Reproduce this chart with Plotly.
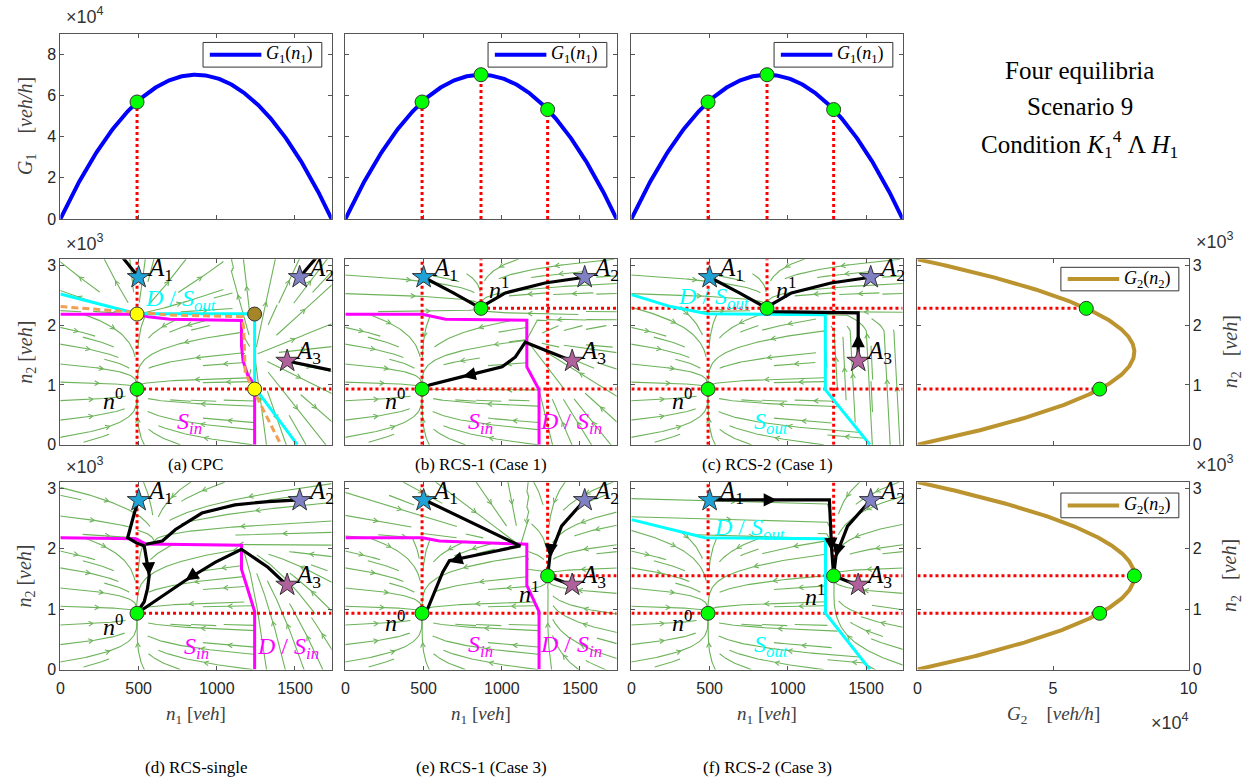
import numpy as np
import plotly.graph_objects as go

W, H = 1256, 784

# ---------------------------------------------------------------- model data
N1_MAX = 1734.0          # jam accumulation, region 1 [veh]
N2_MAX = 3100.0          # jam accumulation, region 2 [veh]
G1_MAX = 70000.0         # peak of MFD G1 [veh/h]
G2_MAX = 80000.0         # peak of MFD G2 [veh/h]

N0 = (490, 930)          # equilibrium n^0
N1_CASE1 = (867, 2280)   # equilibrium n^1, case 1
N1_CASE3 = (1293, 1550)  # equilibrium n^1, case 3
CPC_YELLOW = [(490, 2185), (1242, 930)]
CPC_BROWN = (1242, 2185)

A_NAMES = ["A1", "A2", "A3"]
A_X = [500, 1530, 1450]
A_Y = [2800, 2800, 1400]
A_COLORS = ["#1fa2d6", "#8080c4", "#b0609a"]

G1_DOTS = [[490], [490, 867, 1293], [490, 867, 1293]]
G2_DOTS_ROW2 = [930, 2280]
G2_DOTS_ROW3 = [930, 1550]

# region boundaries (S_in magenta / S_out cyan / D orange)
MAG_A = [(0, 2182), (490, 2182), (560, 2140), (700, 2100), (1158, 2078), (1158, 1650),
         (1168, 1400), (1200, 1150), (1242, 1000), (1242, 0)]
CYAN_A = [(0, 2520), (490, 2190), (1242, 2190), (1242, 960), (1515, 0)]
ORANGE_A = [(0, 2310), (490, 2205), (700, 2170), (1160, 2140), (1172, 1950), (1182, 1200),
            (1265, 750), (1410, 0)]
MAG_B = [(0, 2182), (492, 2180), (640, 2100), (1160, 2083), (1160, 1300), (1238, 920), (1238, 0)]
CYAN_C = [(0, 2510), (250, 2310), (485, 2190), (1240, 2172), (1240, 920), (1525, 0)]
MAG_D = [(0, 2180), (483, 2165), (546, 2075), (1158, 2056), (1158, 1660), (1211, 1230),
         (1242, 960), (1242, 0)]
MAG_E = [(0, 2181), (492, 2181), (601, 2126), (1160, 2072), (1160, 1392), (1238, 958), (1238, 0)]
CYAN_F = [(0, 2480), (470, 2181), (1241, 2165), (1241, 930), (1525, 0)]

# trajectories from the initial states
TRAJ_A = [[(500, 2800), (399, 3128)],
          [(1530, 2800), (1633, 3117)],
          [(1450, 1400), (1728, 1248)]]
TRAJ_B = [[(500, 2800), (690, 2540), (867, 2280)],
          [(1530, 2800), (1276, 2704), (1023, 2539), (897, 2346), (867, 2280)],
          [(1450, 1400), (1150, 1715), (1087, 1467), (1002, 1302), (749, 1138), (538, 1000), (490, 930)]]
TRAJ_C = [[(500, 2800), (690, 2540), (867, 2280)],
          [(1530, 2800), (1276, 2704), (1023, 2539), (897, 2346), (867, 2280)],
          [(1450, 1400), (1450, 2205), (900, 2225), (867, 2280)]]
TRAJ_D = [[(500, 2806), (473, 2589), (430, 2181), (483, 2099), (536, 2045), (551, 1827), (568, 1555),
           (557, 1338), (536, 1121), (494, 958), (490, 930)],
          [(1530, 2806), (1327, 2779), (1116, 2725), (905, 2589), (736, 2317), (652, 2126), (546, 2072)],
          [(1450, 1392), (1327, 1692), (1158, 1990), (989, 1773), (799, 1473), (631, 1175),
           (525, 984), (490, 930)]]
TRAJ_E = [[(506, 2806), (1118, 2045), (918, 1937), (665, 1800), (622, 1610), (580, 1338),
           (527, 1012), (490, 930)],
          [(1530, 2806), (1382, 2371), (1308, 1881), (1293, 1550)],
          [(1450, 1392), (1370, 1470), (1293, 1550)]]
TRAJ_F = [[(500, 2806), (1266, 2806), (1280, 2000), (1293, 1550)],
          [(1530, 2806), (1382, 2371), (1308, 1881), (1293, 1550)],
          [(1450, 1392), (1370, 1470), (1293, 1550)]]

CAPTIONS = ["(a) CPC", "(b) RCS-1 (Case 1)", "(c) RCS-2 (Case 1)",
            "(d) RCS-single", "(e) RCS-1 (Case 3)", "(f) RCS-2 (Case 3)"]

# ---------------------------------------------------------------- styling
SERIF = "Liberation Serif, DejaVu Serif, serif"
SANS = "Liberation Sans, Arial, sans-serif"
AXC = "#555555"
GREEN_STREAM = "#6db35a"
GOLD = "#bb942f"

COLS = [(57, 331), (345, 619), (634, 908), (923, 1197)]
ROWS = [(32, 220), (261, 449), (487, 677)]


def xdom(c):
    return [COLS[c][0] / W, COLS[c][1] / W]


def ydom(r):
    return [1 - ROWS[r][1] / H, 1 - ROWS[r][0] / H]


def G1(n):
    return 4 * G1_MAX * (n / N1_MAX) * (1 - n / N1_MAX)


def G2(n):
    return 4 * G2_MAX * (n / N2_MAX) * (1 - n / N2_MAX)


# axis bookkeeping
AX_ID = {}
k = 0
for r in range(3):
    for c in range(4):
        if r == 0 and c == 3:
            continue
        k += 1
        AX_ID[(r, c)] = k


def refs(r, c):
    k = AX_ID[(r, c)]
    return ("x" if k == 1 else f"x{k}"), ("y" if k == 1 else f"y{k}")


fig = go.Figure()


def add_line(r, c, xs, ys, color, width, dash="solid"):
    xr, yr = refs(r, c)
    fig.add_trace(go.Scatter(x=xs, y=ys, mode="lines", xaxis=xr, yaxis=yr,
                             line=dict(color=color, width=width, dash=dash),
                             hoverinfo="skip", showlegend=False))


def add_dots(r, c, xs, ys, color, size=14):
    xr, yr = refs(r, c)
    fig.add_trace(go.Scatter(x=xs, y=ys, mode="markers", xaxis=xr, yaxis=yr, cliponaxis=False,
                             marker=dict(color=color, size=size, line=dict(color="#333333", width=1)),
                             hoverinfo="skip", showlegend=False))


# ---------------------------------------------------------------- vector fields of the closed loop
PW, PH = 274, 188   # panel size in pixels; streamlines are traced on this grid


def inside(X, Y, poly):
    poly = np.asarray(poly, float)
    res = np.zeros(X.shape, bool)
    j = len(poly) - 1
    for i in range(len(poly)):
        xi, yi = poly[i]
        xj, yj = poly[j]
        with np.errstate(all="ignore"):
            cond = ((yi > Y) != (yj > Y)) & (X < (xj - xi) * (Y - yi) / (yj - yi + 1e-12) + xi)
        res ^= cond
        j = i
    return res


def basin(line):
    return [(-80, -80), (-80, line[0][1])] + list(line) + [(line[-1][0], -80)]


def upper_limit(line, X):
    xs = [p[0] for p in line if p[1] > 1900]
    ys = [p[1] for p in line if p[1] > 1900]
    xs = xs + [N1_MAX + 100]
    ys = ys + [ys[-1]]
    return np.interp(X, xs, ys)


def sink(X, Y, p, a=4.0, b=1.0):
    return -a * (X - p[0]) / N1_MAX, -b * (Y - p[1]) / N2_MAX


def source(X, Y, p, a=1.0, b=1.0):
    u, v = sink(X, Y, p, a, b)
    return -u, -v


def pick(conds, fields, default):
    u, v = default
    for cnd, (fu, fv) in zip(conds[::-1], fields[::-1]):
        u = np.where(cnd, fu, u)
        v = np.where(cnd, fv, v)
    return u, v


def field_a(X, Y):
    inner = inside(X, Y, basin(MAG_A))
    return pick([inner, X < 1100],
                [sink(X, Y, N0), source(X, Y, CPC_YELLOW[0], 1.0, 1.2)],
                source(X, Y, (1242, 1500)))


def field_b(X, Y):
    inner = inside(X, Y, basin(MAG_B))
    up = Y >= upper_limit(MAG_B, X)
    return pick([inner, up], [sink(X, Y, N0), sink(X, Y, N1_CASE1)],
                sink(X, Y, (1160, 1750), 1.0, 1.0))


def field_c(X, Y):
    inner = inside(X, Y, basin(CYAN_C))
    up = Y >= upper_limit(CYAN_C, X)
    ur = -0.9 * np.clip((Y - 1850) / 350, 0, 1) - 0.02
    vr = 0.6 * np.ones_like(Y)
    return pick([inner, up], [sink(X, Y, N0), sink(X, Y, N1_CASE1)], (ur, vr))


def field_d(X, Y):
    inner = inside(X, Y, basin(MAG_D))
    up = Y >= upper_limit(MAG_D, X)
    return pick([inner, up], [sink(X, Y, N0), sink(X, Y, (600, 2100), 2.5, 1.0)],
                sink(X, Y, (1158, 2000), 1.0, 1.5))


def field_e(X, Y):
    inner = inside(X, Y, basin(MAG_E))
    left = X < 1170
    return pick([inner, left], [sink(X, Y, N0), sink(X, Y, (1118, 2045), 1.0, 1.0)],
                sink(X, Y, N1_CASE3))


def field_f(X, Y):
    inner = inside(X, Y, basin(CYAN_F))
    left = X < 1250
    uh = np.ones_like(X)
    vh = -0.04 * np.ones_like(X)
    return pick([inner, left], [sink(X, Y, N0), (uh, vh)], sink(X, Y, N1_CASE3))


def to_px(x, y):
    return x / N1_MAX * PW, y / N2_MAX * PH


def trace_streamlines(field, nodes, seed_step=18, cell=11, max_len=300, h=1.5, node_r=12):
    """Integrate the field on the pixel grid of the panel; returns polylines and arrow chevrons."""
    gx = np.arange(PW + 1)
    gy = np.arange(PH + 1)
    GX, GY = np.meshgrid(gx, gy)
    du, dv = field(GX / PW * N1_MAX + 0.3, GY / PH * N2_MAX + 0.3)
    U = du * PW
    V = dv * PH
    S = np.hypot(U, V) + 1e-12
    U, V = U / S, V / S
    nodes_px = [to_px(*p) for p in nodes]
    ncx, ncy = PW // cell + 1, PH // cell + 1
    occ = np.zeros((ncx, ncy), bool)

    def direction(p):
        i = int(round(min(max(p[1], 0), PH)))
        j = int(round(min(max(p[0], 0), PW)))
        return U[i, j], V[i, j]

    def near_node(p):
        for (nx, ny) in nodes_px:
            if (p[0] - nx) ** 2 + (p[1] - ny) ** 2 < node_r ** 2:
                return True
        return False

    def walk(p0, sgn):
        pts = [p0]
        p = p0
        prev = None
        L = 0.0
        cells = set()
        while L < max_len:
            ux, uy = direction(p)
            ux, uy = sgn * ux, sgn * uy
            mid = (p[0] + 0.5 * h * ux, p[1] + 0.5 * h * uy)
            mx, my = direction(mid)
            mx, my = sgn * mx, sgn * my
            if prev is not None and mx * prev[0] + my * prev[1] < 0.2:
                break
            q = (p[0] + h * mx, p[1] + h * my)
            if not (0 <= q[0] <= PW and 0 <= q[1] <= PH):
                pts.append(q)
                break
            ci, cj = int(q[0] // cell), int(q[1] // cell)
            if occ[ci, cj] and (ci, cj) not in cells and not near_node(q):
                break
            cells.add((int(p[0] // cell), int(p[1] // cell)))
            pts.append(q)
            p = q
            prev = (mx, my)
            L += h
        return pts, cells, L

    lines, arrows = [], []
    seeds = [(sx + 0.5 * ((k2 % 2) * seed_step), sy)
             for k2, sy in enumerate(np.arange(seed_step / 2, PH, seed_step))
             for sx in np.arange(seed_step / 2, PW, seed_step)]
    for s in seeds:
        if s[0] > PW or occ[int(s[0] // cell), int(s[1] // cell)]:
            continue
        fwd, c1, l1 = walk(s, 1)
        bwd, c2, l2 = walk(s, -1)
        line = bwd[::-1] + fwd[1:]
        if l1 + l2 < 18:
            continue
        for (a, b) in c1 | c2:
            if 0 <= a < ncx and 0 <= b < ncy:
                occ[a, b] = True
        lines.append(line)
        if l1 + l2 < 35:
            continue
        # chevron along the streamline, pointing with the flow
        m = len(line) // 2
        p1, p0 = line[m], line[max(m - 3, 0)]
        ang = np.arctan2(p1[1] - p0[1], p1[0] - p0[0])
        for da in (np.pi - 0.5, np.pi + 0.5):
            arrows.append([p1, (p1[0] + 5 * np.cos(ang + da), p1[1] + 5 * np.sin(ang + da))])
    xs, ys = [], []
    for poly in lines + arrows:
        for (px, py) in poly:
            xs.append(px / PW * N1_MAX)
            ys.append(py / PH * N2_MAX)
        xs.append(None)
        ys.append(None)
    return xs, ys


# ---------------------------------------------------------------- row 1: G1 curves
n1_grid = np.linspace(0, N1_MAX, 300)
for c in range(3):
    add_line(0, c, n1_grid, G1(n1_grid), "#0000ff", 4)
    for xv in G1_DOTS[c]:
        add_line(0, c, [xv, xv], [0, G1(xv)], "red", 3, "dot")
    add_dots(0, c, G1_DOTS[c], [G1(v) for v in G1_DOTS[c]], "#00ff00")

# ---------------------------------------------------------------- phase portraits
PANELS = [
    (1, 0, field_a, TRAJ_A, [N0]),
    (1, 1, field_b, TRAJ_B, [N0, N1_CASE1, (1160, 1750)]),
    (1, 2, field_c, TRAJ_C, [N0, N1_CASE1]),
    (2, 0, field_d, TRAJ_D, [N0, (1158, 2000), (600, 2100)]),
    (2, 1, field_e, TRAJ_E, [N0, N1_CASE3, (1118, 2045)]),
    (2, 2, field_f, TRAJ_F, [N0, N1_CASE3]),
]
TOP = N2_MAX
RIGHT = N1_MAX
# dotted guides: (x0, y0, x1, y1)
GUIDES = {
    (1, 0): [(N0[0], 0, N0[0], TOP), (N0[0], N0[1], RIGHT, N0[1])],
    (1, 1): [(N0[0], 0, N0[0], TOP), (N1_CASE1[0], N1_CASE1[1], N1_CASE1[0], TOP),
             (N1_CASE3[0], 0, N1_CASE3[0], TOP), (0, N0[1], RIGHT, N0[1]),
             (N1_CASE1[0], N1_CASE1[1], RIGHT, N1_CASE1[1])],
    (1, 2): [(N0[0], 0, N0[0], TOP), (N1_CASE1[0], N1_CASE1[1], N1_CASE1[0], TOP),
             (N1_CASE3[0], 0, N1_CASE3[0], TOP), (0, N0[1], RIGHT, N0[1]),
             (0, N1_CASE1[1], RIGHT, N1_CASE1[1])],
    (2, 0): [(N0[0], 1230, N0[0], TOP), (N0[0], N0[1], RIGHT, N0[1])],
    (2, 1): [(N0[0], N0[1], N0[0], TOP), (N1_CASE3[0], N1_CASE3[1], N1_CASE3[0], TOP),
             (0, N0[1], RIGHT, N0[1]), (N1_CASE3[0], N1_CASE3[1], RIGHT, N1_CASE3[1])],
    (2, 2): [(N0[0], 1230, N0[0], TOP), (N1_CASE3[0], N1_CASE3[1], N1_CASE3[0], TOP),
             (0, N0[1], RIGHT, N0[1]), (0, N1_CASE3[1], RIGHT, N1_CASE3[1])],
}
BOUNDS = {
    (1, 0): [(ORANGE_A, "#f0a050", 3, "7px,4px"), (MAG_A, "#ff00ff", 3, "solid"), (CYAN_A, "#00ffff", 3, "solid")],
    (1, 1): [(MAG_B, "#ff00ff", 3, "solid")],
    (1, 2): [(CYAN_C, "#00ffff", 3, "solid")],
    (2, 0): [(MAG_D, "#ff00ff", 3, "solid")],
    (2, 1): [(MAG_E, "#ff00ff", 3, "solid")],
    (2, 2): [(CYAN_F, "#00ffff", 3, "solid")],
}

for (r, c, field, trajs, nodes) in PANELS:
    sx, sy = trace_streamlines(field, nodes)
    add_line(r, c, sx, sy, GREEN_STREAM, 1.1)
    for (x0, y0, x1, y1) in GUIDES[(r, c)]:
        add_line(r, c, [x0, x1], [y0, y1], "red", 3, "dot")
    order = BOUNDS[(r, c)]
    # cyan and magenta under the dashed orange line
    for line, col, wd, ds in sorted(order, key=lambda t: t[3] != "solid"):
        add_line(r, c, [p[0] for p in line], [p[1] for p in line], col, wd, ds)
    for tr in trajs:
        add_line(r, c, [p[0] for p in tr], [p[1] for p in tr], "black", 3.2)
    xr, yr = refs(r, c)
    for i in range(3):
        fig.add_trace(go.Scatter(x=[A_X[i]], y=[A_Y[i]], mode="markers", xaxis=xr, yaxis=yr,
                                 marker=dict(symbol="star", size=17, color=A_COLORS[i],
                                             line=dict(color="#333333", width=1)),
                                 hoverinfo="skip", showlegend=False))

# equilibria markers
add_dots(1, 0, [N0[0]], [N0[1]], "#00ff00")
add_dots(1, 0, [p[0] for p in CPC_YELLOW], [p[1] for p in CPC_YELLOW], "#ffff00")
add_dots(1, 0, [CPC_BROWN[0]], [CPC_BROWN[1]], "#a48628")
for c in (1, 2):
    add_dots(1, c, [N0[0], N1_CASE1[0]], [N0[1], N1_CASE1[1]], "#00ff00")
add_dots(2, 0, [N0[0]], [N0[1]], "#00ff00")
for c in (1, 2):
    add_dots(2, c, [N0[0], N1_CASE3[0]], [N0[1], N1_CASE3[1]], "#00ff00")

# ---------------------------------------------------------------- column 4: G2 curves
n2_grid = np.linspace(0, N2_MAX, 300)
for r, dots in ((1, G2_DOTS_ROW2), (2, G2_DOTS_ROW3)):
    add_line(r, 3, G2(n2_grid), n2_grid, GOLD, 4)
    for yv in dots:
        add_line(r, 3, [0, G2(yv)], [yv, yv], "red", 3, "dot")
    add_dots(r, 3, [G2(v) for v in dots], dots, "#00ff00")

# ---------------------------------------------------------------- axes
base = dict(showgrid=False, zeroline=False, showline=True, linecolor=AXC, linewidth=1,
            mirror="ticks", ticks="inside", ticklen=4, tickcolor=AXC,
            tickfont=dict(family=SANS, size=16, color="#262626"))
layout_axes = {}
for (r, c), k in AX_ID.items():
    xa = dict(base, domain=xdom(c), anchor=("y" if k == 1 else f"y{k}"), ticklabelstandoff=4)
    ya = dict(base, domain=ydom(r), anchor=("x" if k == 1 else f"x{k}"))
    if c < 3:
        xa.update(range=[0, N1_MAX], tickvals=[0, 500, 1000, 1500],
                  ticktext=["0", "500", "1000", "1500"], showticklabels=(r == 2))
    else:
        xa.update(range=[0, 100000], tickvals=[0, 50000, 100000],
                  ticktext=["0", "5", "10"], showticklabels=(r == 2))
    if r == 0:
        ya.update(range=[0, 90000], tickvals=[0, 20000, 40000, 60000, 80000],
                  ticktext=["0", "2", "4", "6", "8"], showticklabels=(c == 0))
    else:
        ya.update(range=[0, N2_MAX], tickvals=[0, 1000, 2000, 3000],
                  ticktext=["0", "1", "2", "3"], showticklabels=(c in (0, 3)))
        if c == 3:
            ya.update(side="right")
    layout_axes["xaxis" if k == 1 else f"xaxis{k}"] = xa
    layout_axes["yaxis" if k == 1 else f"yaxis{k}"] = ya

fig.update_layout(**layout_axes)

# ---------------------------------------------------------------- text
ann = []


def paper_text(x, y, text, size=15, family=SERIF, color="black", angle=0, xanchor="center"):
    ann.append(dict(x=x / W, y=1 - y / H, xref="paper", yref="paper", text=text, showarrow=False,
                    font=dict(family=family, size=size, color=color), textangle=angle,
                    xanchor=xanchor, yanchor="middle"))


def data_text(r, c, x, y, text, size=24, color="black", xshift=0, yshift=0, xanchor="center"):
    xr, yr = refs(r, c)
    ann.append(dict(x=x, y=y, xref=xr, yref=yr, text=text, showarrow=False,
                    font=dict(family=SERIF, size=size, color=color),
                    xshift=xshift, yshift=yshift, xanchor=xanchor, yanchor="middle"))


def data_arrow(r, c, p_from, p_to):
    xr, yr = refs(r, c)
    ann.append(dict(x=p_to[0], y=p_to[1], ax=p_from[0], ay=p_from[1], xref=xr, yref=yr,
                    axref=xr, ayref=yr, text="", showarrow=True, arrowhead=2, arrowsize=1.1,
                    arrowwidth=2.4, arrowcolor="black"))


# scale factors
paper_text(82, 14, "×10<sup>4</sup>", size=18, family=SANS, color="#333333")
for yy in (244, 470):
    paper_text(82, yy, "×10<sup>3</sup>", size=18, family=SANS, color="#333333")
    paper_text(1224, yy - 2, "×10<sup>3</sup>", size=18, family=SANS, color="#333333")
paper_text(1178, 730, "×10<sup>4</sup>", size=18, family=SANS, color="#333333")

# axis titles
paper_text(22, 126, "<i>G</i><sub>1</sub>    [<i>veh/h</i>]", size=20, color="#404040", angle=-90)
for yy in (355, 582):
    paper_text(22, yy, "<i>n</i><sub>2</sub> [<i>veh</i>]", size=20, color="#404040", angle=-90)
    paper_text(1240, yy, "<i>n</i><sub>2</sub>   [<i>veh</i>]", size=20, color="#404040", angle=-90)
for c in range(3):
    cx = (COLS[c][0] + COLS[c][1]) / 2
    paper_text(cx, 723, "<i>n</i><sub>1</sub> [<i>veh</i>]", size=19, color="#404040")
paper_text(1060, 723, "<i>G</i><sub>2</sub>    [<i>veh/h</i>]", size=19, color="#404040")

# captions
for i, cap in enumerate(CAPTIONS):
    c = i % 3
    cx = (COLS[c][0] + COLS[c][1]) / 2
    paper_text(cx, 469 if i < 3 else 776, cap, size=17)

# scenario description
paper_text(1087, 69, "Four equilibria", size=25)
paper_text(1087, 106, "Scenario 9", size=25)
paper_text(1087, 144, "Condition <i>K</i><sub>1</sub><sup>4</sup> Λ <i>H</i><sub>1</sub>", size=25)

# legends drawn as boxes with a line sample
shapes = []


def legend_box(r, c, x0, x1, y0, y1, color, label):
    xr, yr = refs(r, c)
    xd, yd = f"{xr} domain", f"{yr} domain"
    shapes.append(dict(type="rect", xref=xd, yref=yd, x0=x0, x1=x1, y0=y0, y1=y1,
                       line=dict(color="#333333", width=1), fillcolor="white", layer="above"))
    ym = (y0 + y1) / 2
    shapes.append(dict(type="line", xref=xd, yref=yd, x0=x0 + 0.025, x1=x0 + 0.215, y0=ym, y1=ym,
                       line=dict(color=color, width=4), layer="above"))
    ann.append(dict(x=x0 + 0.225, y=ym, xref=xd, yref=yd, text=label, showarrow=False,
                    xanchor="left", yanchor="middle", font=dict(family=SERIF, size=18, color="black")))


for c in range(3):
    legend_box(0, c, 0.526, 0.964, 0.819, 0.952, "#0000ff", "<i>G</i><sub>1</sub>(<i>n</i><sub>1</sub>)")
legend_box(1, 3, 0.529, 0.964, 0.83, 0.957, GOLD, "<i>G</i><sub>2</sub>(<i>n</i><sub>2</sub>)")
legend_box(2, 3, 0.529, 0.964, 0.81, 0.942, GOLD, "<i>G</i><sub>2</sub>(<i>n</i><sub>2</sub>)")

# star labels
for (r, c, _, _, _) in PANELS:
    for i in range(3):
        name = f"<i>A</i><sub>{A_NAMES[i][1]}</sub>"
        data_text(r, c, A_X[i], A_Y[i], name, size=25, xshift=6, yshift=8, xanchor="left")

MAG = "#ff00ff"
CYA = "#00ffff"
S_IN = "<i>S</i><sub><i>in</i></sub>"
D_S_IN = "<i>D</i> / <i>S</i><sub><i>in</i></sub>"
S_OUT = "<i>S</i><sub><i>out</i></sub>"
D_S_OUT = "<i>D</i> / <i>S</i><sub><i>out</i></sub>"
N0_TXT = "<i>n</i><sup>0</sup>"
N1_TXT = "<i>n</i><sup>1</sup>"

data_text(1, 0, 766, 2424, D_S_OUT, color=CYA)
data_text(1, 0, 823, 363, S_IN, color=MAG)
data_text(1, 0, 335, 758, N0_TXT)
data_text(1, 1, 981, 2622, N1_TXT)
data_text(1, 1, 316, 758, N0_TXT)
data_text(1, 1, 865, 368, S_IN, color=MAG)
data_text(1, 1, 1443, 363, D_S_IN, color=MAG)
data_text(1, 2, 523, 2457, D_S_OUT, color=CYA)
data_text(1, 2, 892, 368, S_OUT, color=CYA)
data_text(1, 2, 987, 2622, N1_TXT)
data_text(1, 2, 323, 758, N0_TXT)
data_text(2, 0, 873, 359, S_IN, color=MAG)
data_text(2, 0, 1454, 359, D_S_IN, color=MAG)
data_text(2, 0, 335, 739, N0_TXT)
data_text(2, 1, 1171, 1284, N1_TXT)
data_text(2, 1, 316, 800, N0_TXT)
data_text(2, 1, 865, 392, S_IN, color=MAG)
data_text(2, 1, 1445, 392, D_S_IN, color=MAG)
data_text(2, 2, 755, 2333, D_S_OUT, color=CYA)
data_text(2, 2, 892, 392, S_OUT, color=CYA)
data_text(2, 2, 1177, 1229, N1_TXT)
data_text(2, 2, 323, 800, N0_TXT)

# arrowheads along trajectories
data_arrow(1, 1, (850, 1200), (749, 1138))
data_arrow(1, 2, (1450, 1750), (1450, 1850))
data_arrow(2, 0, (566, 1650), (568, 1555))
data_arrow(2, 0, (860, 1580), (799, 1473))
data_arrow(2, 1, (740, 1840), (665, 1780))
data_arrow(2, 1, (1312, 1990), (1306, 1860))
data_arrow(2, 2, (820, 2806), (930, 2806))
data_arrow(2, 2, (1277, 2100), (1280, 1960))
data_arrow(2, 2, (1318, 1980), (1306, 1860))

fig.update_layout(annotations=ann, shapes=shapes, width=W, height=H,
                  margin=dict(l=0, r=0, t=0, b=0), paper_bgcolor="white", plot_bgcolor="white",
                  showlegend=False)

fig.write_html("out.html")
